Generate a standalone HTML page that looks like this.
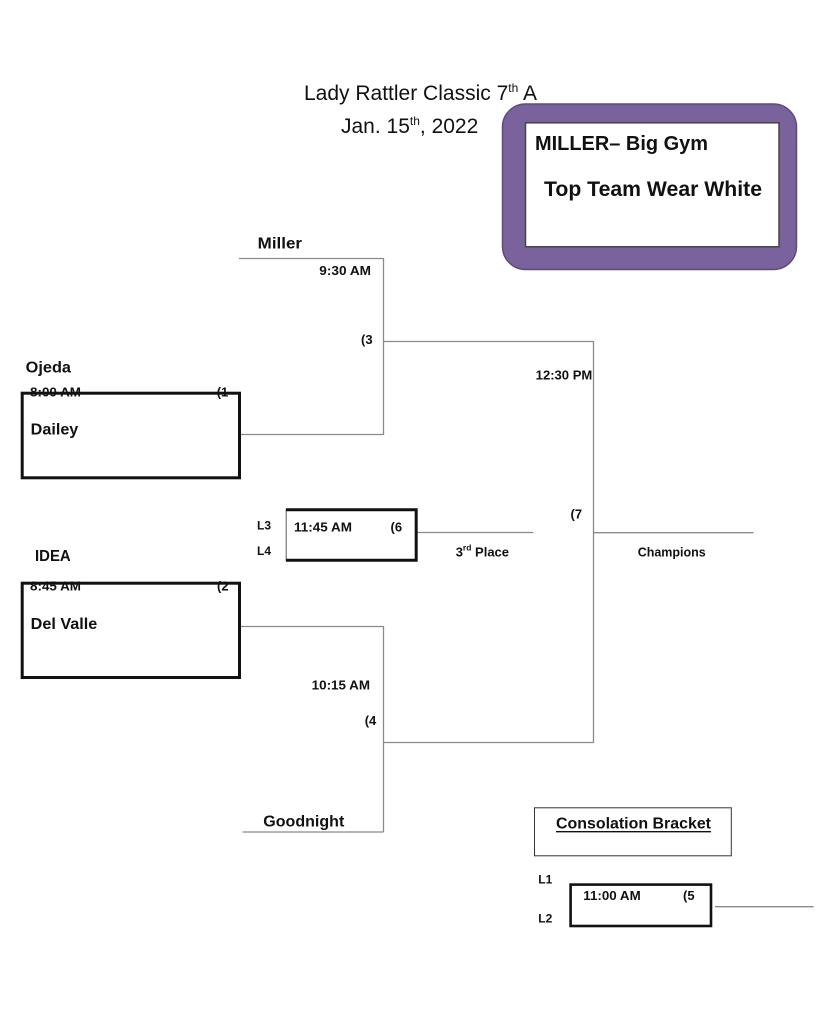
<!DOCTYPE html>
<html>
<head>
<meta charset="utf-8">
<style>
  html,body{margin:0;padding:0;background:#fff;}
  svg{display:block;}
  text{font-family:"Liberation Sans",Arial,sans-serif;fill:#111;}
  .b{font-weight:bold;}
</style>
</head>
<body>
<svg width="828" height="1021" viewBox="0 0 828 1021" xmlns="http://www.w3.org/2000/svg">
  <rect x="0" y="0" width="828" height="1021" fill="#fff"/>

  <!-- Title -->
  <text x="304" y="100" font-size="21" fill="#222">Lady Rattler Classic 7<tspan font-size="12" dy="-8">th</tspan><tspan dy="8"> A</tspan></text>
  <text x="341" y="133" font-size="21" fill="#222">Jan. 15<tspan font-size="12" dy="-8">th</tspan><tspan dy="8">, 2022</tspan></text>

  <!-- Purple box -->
  <rect x="502.5" y="104" width="294" height="165.5" rx="23" ry="23" fill="#7a639c" stroke="#5d4b7d" stroke-width="1.5"/>
  <rect x="525.5" y="122.8" width="253.5" height="124" fill="#fff" stroke="#444" stroke-width="1.5"/>
  <text x="535" y="150" font-size="20" class="b" textLength="173" lengthAdjust="spacingAndGlyphs">MILLER– Big Gym</text>
  <text x="544" y="196" font-size="21" class="b" textLength="218" lengthAdjust="spacingAndGlyphs">Top Team Wear White</text>

  <!-- Connector lines -->
  <g stroke="#8a8a8a" stroke-width="1.3" fill="none">
    <line x1="239" y1="258.5" x2="383.5" y2="258.5"/>
    <line x1="383.5" y1="258" x2="383.5" y2="435"/>
    <line x1="241" y1="434.5" x2="383.5" y2="434.5"/>
    <line x1="383.5" y1="341.5" x2="593.5" y2="341.5"/>
    <line x1="593.5" y1="341" x2="593.5" y2="743"/>
    <line x1="593.5" y1="532.7" x2="753.5" y2="532.7"/>
    <line x1="241" y1="626.5" x2="383.5" y2="626.5"/>
    <line x1="383.5" y1="626" x2="383.5" y2="832"/>
    <line x1="383.5" y1="742.5" x2="593.5" y2="742.5"/>
    <line x1="242.5" y1="832" x2="383.5" y2="832"/>
    <line x1="417.5" y1="532.5" x2="533.5" y2="532.5"/>
    <line x1="715" y1="906.7" x2="813.5" y2="906.7"/>
  </g>

  <!-- Team labels -->
  <text x="257.7" y="248.3" font-size="16" class="b" textLength="44.3" lengthAdjust="spacingAndGlyphs">Miller</text>
  <text x="25.7" y="372.3" font-size="16" class="b" textLength="45.3" lengthAdjust="spacingAndGlyphs">Ojeda</text>
  <text x="30.7" y="434.3" font-size="16" class="b" textLength="47.6" lengthAdjust="spacingAndGlyphs">Dailey</text>
  <text x="35" y="561" font-size="16" class="b" textLength="35.7" lengthAdjust="spacingAndGlyphs">IDEA</text>
  <text x="30.7" y="629" font-size="16" class="b" textLength="66.6" lengthAdjust="spacingAndGlyphs">Del Valle</text>
  <text x="263.3" y="826.7" font-size="16" class="b" textLength="81" lengthAdjust="spacingAndGlyphs">Goodnight</text>

  <!-- Times / game numbers -->
  <text x="319.3" y="275" font-size="13" class="b" textLength="51.7" lengthAdjust="spacingAndGlyphs">9:30 AM</text>
  <text x="361" y="344" font-size="13" class="b">(3</text>
  <text x="535.7" y="379.3" font-size="13" class="b" textLength="56.6" lengthAdjust="spacingAndGlyphs">12:30 PM</text>
  <text x="311.7" y="689.3" font-size="13" class="b" textLength="58.3" lengthAdjust="spacingAndGlyphs">10:15 AM</text>
  <text x="364.7" y="725" font-size="13" class="b">(4</text>
  <text x="570.5" y="518.3" font-size="13" class="b">(7</text>

  <!-- Box 1 -->
  <text x="30" y="396.7" font-size="13" class="b" textLength="51" lengthAdjust="spacingAndGlyphs">8:00 AM</text>
  <text x="216.7" y="396.7" font-size="13" class="b">(1</text>
  <rect x="22.2" y="393.2" width="217.3" height="84.6" fill="none" stroke="#111" stroke-width="3"/>

  <!-- Box 2 -->
  <text x="30" y="590.5" font-size="13" class="b" textLength="51" lengthAdjust="spacingAndGlyphs">8:45 AM</text>
  <text x="217" y="590.5" font-size="13" class="b">(2</text>
  <rect x="22.2" y="583.2" width="217.3" height="94.3" fill="none" stroke="#111" stroke-width="3"/>

  <!-- Box 6 (3rd place game) -->
  <text x="257" y="529.3" font-size="12" class="b">L3</text>
  <text x="257" y="555" font-size="12" class="b">L4</text>
  <text x="294" y="531.7" font-size="13" class="b" textLength="58" lengthAdjust="spacingAndGlyphs">11:45 AM</text>
  <text x="390.5" y="531.7" font-size="13" class="b">(6</text>
  <line x1="286.2" y1="509" x2="286.2" y2="561" stroke="#777" stroke-width="1.2"/>
  <polyline points="286,509.8 416.2,509.8 416.2,560.2 286,560.2" fill="none" stroke="#111" stroke-width="3"/>

  <!-- 3rd Place / Champions -->
  <text x="455.7" y="556.7" font-size="13" class="b">3<tspan font-size="8.5" dy="-6">rd</tspan><tspan dy="6"> Place</tspan></text>
  <text x="637.7" y="556.7" font-size="13" class="b" textLength="68" lengthAdjust="spacingAndGlyphs">Champions</text>

  <!-- Consolation bracket -->
  <rect x="534.5" y="807.8" width="196.8" height="48" fill="none" stroke="#333" stroke-width="1"/>
  <text x="556" y="828.3" font-size="16" class="b" textLength="155" lengthAdjust="spacingAndGlyphs">Consolation Bracket</text>
  <line x1="556" y1="831.7" x2="711" y2="831.7" stroke="#111" stroke-width="1.3"/>

  <text x="538.3" y="883.3" font-size="12" class="b">L1</text>
  <text x="538.3" y="922.7" font-size="12" class="b">L2</text>
  <text x="583.3" y="900" font-size="13" class="b" textLength="57.4" lengthAdjust="spacingAndGlyphs">11:00 AM</text>
  <text x="683" y="900" font-size="13" class="b">(5</text>
  <rect x="570.6" y="884.6" width="140.4" height="41.4" fill="none" stroke="#111" stroke-width="2.6"/>
</svg>
</body>
</html>
